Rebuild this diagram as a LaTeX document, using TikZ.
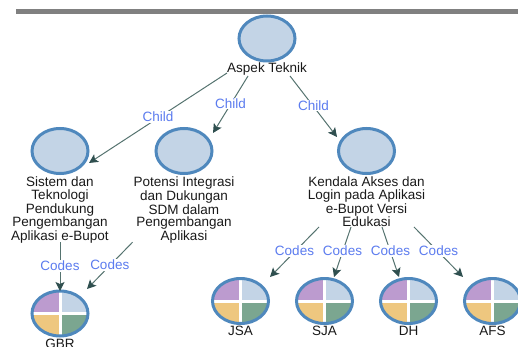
\documentclass[tikz,border=0pt]{standalone}
\usepackage{fontspec}
\setmainfont{Liberation Sans}
\usetikzlibrary{calc}
\usetikzlibrary{arrows.meta}
\usetikzlibrary{shapes.geometric}
\definecolor{ringblue}{HTML}{4F88BD}
\definecolor{paleblue}{HTML}{C3D4E6}
\definecolor{pieviolet}{HTML}{BC9BCF}
\definecolor{pieyellow}{HTML}{EEC77F}
\definecolor{piegreen}{HTML}{7BA690}
\definecolor{linkgreen}{HTML}{55736F}
\definecolor{tipgreen}{HTML}{2F4F4F}
\definecolor{linkblue}{HTML}{5B7BEF}
\tikzset{
  theme/.style={ellipse, draw=ringblue, line width=3pt, fill=paleblue, minimum width=56pt, minimum height=45pt, inner sep=0pt, outer sep=0pt},
  leaf/.style={theme, path picture={
    \fill[pieviolet] (path picture bounding box.north west) rectangle (path picture bounding box.center);
    \fill[paleblue] (path picture bounding box.north east) rectangle (path picture bounding box.center);
    \fill[pieyellow] (path picture bounding box.south west) rectangle (path picture bounding box.center);
    \fill[piegreen] (path picture bounding box.south east) rectangle (path picture bounding box.center);
    \draw[white, line width=3pt] (path picture bounding box.north) -- (path picture bounding box.south);
    \draw[white, line width=3pt] (path picture bounding box.west) -- (path picture bounding box.east);
  }},
  caption/.style={align=center, inner sep=0pt, text=black!90, font=\fontsize{13.5}{12.5}\selectfont},
  link/.style={draw=linkgreen, line width=1pt, -{Stealth[length=9pt, width=9pt, inset=2pt, color=tipgreen]}},
  tag/.style={midway, yshift=1pt, fill=white, inner sep=1pt, text=linkblue, font=\fontsize{13.5}{14}\selectfont}
}
\begin{document}
\begin{tikzpicture}[x=1pt, y=-1pt]
\useasboundingbox (0,0) rectangle (518,347);
\fill[black!50] (16,9) rectangle (518,14);

\node[theme] (cAspek) at (267,38.5) {};
\node[theme] (cSistem) at (60,151) {};
\node[theme] (cPotensi) at (184,151) {};
\node[theme] (cKendala) at (366.5,151) {};

\node[caption] (lblAspek) at (267,69.5) {Aspek Teknik};
\node[caption, anchor=north] (lblSistem) at (60,177) {Sistem dan\\Teknologi\\Pendukung\\Pengembangan\\Aplikasi e-Bupot};
\node[caption, anchor=north] (lblPotensi) at (184,177) {Potensi Integrasi\\dan Dukungan\\SDM dalam\\Pengembangan\\Aplikasi};
\node[caption, anchor=north] (lblKendala) at (366.5,177) {Kendala Akses dan\\Login pada Aplikasi\\e-Bupot Versi\\Edukasi};

% leaf codes
\foreach \nm/\xx/\yy in {GBR/60/313.5, JSA/240.5/301, SJA/324.5/301, DH/408.5/301, AFS/492.5/301} {
  \node[leaf] (c\nm) at (\xx,\yy) {};
  \node[caption] (lbl\nm) at ($ (c\nm) +(0,30) $) {\nm};
}

\draw[link] ($ (lblAspek.south west) +(0,-3) $) -- node[tag] {Child} ($ (cSistem) +(29,12) $);
\draw[link] ($ (lblAspek.south) +(-19,0) $) -- node[tag] {Child} ($ (cPotensi) +(29,-18) $);
\draw[link] ($ (lblAspek.south) +(23,0) $) -- node[tag] {Child} ($ (cKendala) +(-29.5,-14) $);

\draw[link] ($ (lblSistem.south) +(0,-1) $) -- node[tag] {Codes} (cGBR.north);
\draw[link] ($ (lblPotensi.south west) +(-1,-1) $) -- node[tag] {Codes} ($ (cGBR) +(27,-24.5) $);

\foreach \nm/\dx/\ex in {JSA/-47.5/29.5, SJA/-15.5/9.5, DH/15.5/-9.5, AFS/47.5/-29.5}
  \draw[link] ($ (lblKendala.south) +(\dx,0) $) -- node[tag] {Codes} ($ (c\nm) +(\ex,-24) $);
\end{tikzpicture}
\end{document}
